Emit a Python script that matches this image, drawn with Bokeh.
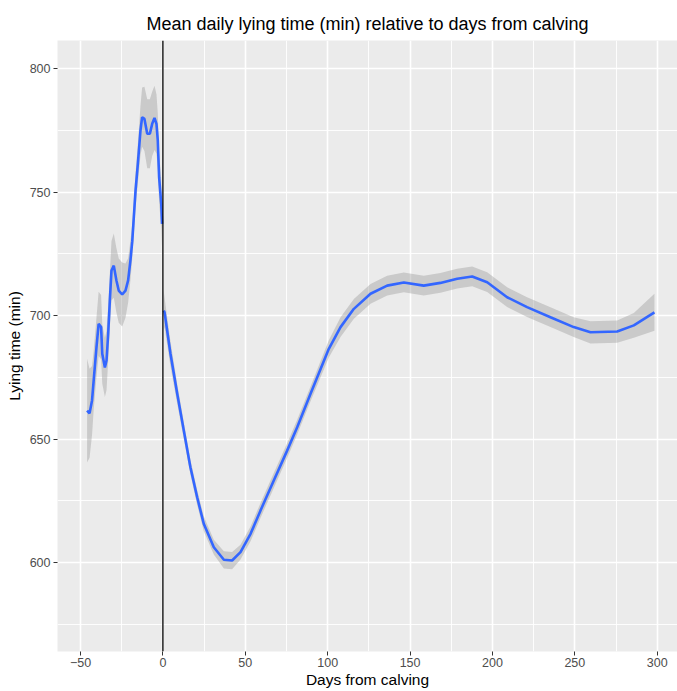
import numpy as np
from bokeh.plotting import figure
from bokeh.models import Range1d, FixedTicker, Span, ColumnDataSource
from bokeh.embed import file_html
from bokeh.resources import INLINE

# ---- data ----
pre_days = [-46, -44.5, -43, -42, -40.3, -39, -37.5, -36.8, -35.2, -34.2, -33.2, -32.2,
            -31.2, -29.8, -28.2, -26.8, -24.7, -22.7, -21.1, -19.7, -18.6, -16.6, -15.2,
            -13.6, -12.6, -11.2, -9.5, -7.9, -6.5, -5.1, -3.9, -3.1, -2.3, -1.0, -0.5]
pre_mean = [661.5, 660.4, 665.6, 673.7, 687.2, 696.6, 695.3, 684.5, 679.0, 681.8, 692.6, 706.0,
            718.2, 720.2, 714.2, 710.1, 708.5, 710.1, 714.2, 722.3, 730.0, 750.6, 761.4,
            774.9, 780.3, 779.6, 773.6, 773.6, 777.6, 780.0, 777.6, 770.9, 756.0, 745.2, 737.1]
pre_se = [21, 18, 14, 12, 12, 13, 13, 12, 12, 12, 11, 11,
          12, 13, 13, 13, 13, 11, 9, 8, 7, 7, 8,
          10, 12, 13, 14, 14, 13, 13, 12, 11, 10, 10, 10]

post_days = [0.5, 1, 4.6, 8.7, 12.7, 16.7, 20.8, 24.8, 30.9, 37, 42, 47.1, 53.2, 59.2, 67.3,
             75.4, 81.5, 89.6, 100.7, 107.8, 115.9, 126, 136.1, 146.2, 158.3, 168.4, 178.6,
             187.7, 196.8, 208.9, 221, 235.2, 249.3, 259.5, 275.7, 285.8, 298.3]
post_mean = [702.0, 701.3, 684.5, 668.3, 653.4, 638.6, 626.4, 615.7, 606.2, 601.1, 600.8, 604.2,
             611.6, 621.0, 633.2, 645.3, 654.8, 668.3, 686.5, 695.3, 702.7, 708.8, 712.1, 713.4,
             712.1, 713.2, 714.9, 715.8, 713.5, 707.4, 703.4, 699.3, 695.3, 693.2, 693.5, 696.0,
             701.3]
post_se = [8, 6, 5, 4, 3.5, 3, 3, 3, 3, 3.5, 3.5, 3, 3, 3, 3, 3, 3, 3, 3.5, 4, 4, 4, 4, 4,
           4, 4, 4, 4, 4, 4, 4, 4, 4, 4.5, 4.5, 5, 7.5]

x_ticks = [-50, 0, 50, 100, 150, 200, 250, 300]
x_minor = [-25, 25, 75, 125, 175, 225, 275]
y_ticks = [600, 650, 700, 750, 800]
y_minor = [575, 625, 675, 725, 775]

title_text = "Mean daily lying time (min) relative to days from calving"
x_label = "Days from calving"
y_label = "Lying time (min)"

# ---- figure ----
FONT = "Liberation Sans"
p = figure(width=677, height=691,
           x_range=Range1d(-63.96, 312.3), y_range=Range1d(563.97, 811.34),
           output_backend="svg", toolbar_location=None, title=title_text,
           min_border_left=57, min_border_right=0, min_border_top=40, min_border_bottom=40)

p.background_fill_color = "#EBEBEB"
p.border_fill_color = "white"
p.outline_line_color = None

p.title.text_font = FONT
p.title.text_font_size = "18px"
p.title.text_font_style = "normal"
p.title.text_color = "black"
p.title.align = "center"
p.title.standoff = 14

p.xaxis.ticker = FixedTicker(ticks=x_ticks, minor_ticks=x_minor)
p.yaxis.ticker = FixedTicker(ticks=y_ticks, minor_ticks=y_minor)
p.xaxis.axis_label = x_label
p.yaxis.axis_label = y_label
for ax in (p.xaxis[0], p.yaxis[0]):
    ax.axis_line_color = None
    ax.major_tick_line_color = "#333333"
    ax.major_tick_line_width = 1
    ax.major_tick_out = 4
    ax.major_tick_in = 0
    ax.minor_tick_line_color = None
    ax.major_label_text_color = "#4D4D4D"
    ax.major_label_text_font = FONT
    ax.major_label_text_font_size = "12.5px"
    ax.major_label_standoff = 2
    ax.axis_label_text_font = FONT
    ax.axis_label_text_font_size = "15.5px"
    ax.axis_label_text_font_style = "normal"
    ax.axis_label_text_color = "black"
    ax.axis_label_standoff = 1
p.yaxis[0].major_label_standoff = 3
p.yaxis[0].axis_label_standoff = 4

for g in (p.xgrid[0], p.ygrid[0]):
    g.grid_line_color = "white"
    g.grid_line_width = 1.6
    g.minor_grid_line_color = "white"
    g.minor_grid_line_width = 0.9

pre = ColumnDataSource(dict(x=pre_days, y=pre_mean,
                            lo=np.array(pre_mean) - np.array(pre_se),
                            hi=np.array(pre_mean) + np.array(pre_se)))
post = ColumnDataSource(dict(x=post_days, y=post_mean,
                             lo=np.array(post_mean) - np.array(post_se),
                             hi=np.array(post_mean) + np.array(post_se)))

for src in (pre, post):
    p.varea(x="x", y1="lo", y2="hi", source=src, fill_color="#999999", fill_alpha=0.4)

p.add_layout(Span(location=0, dimension="height", line_color="black", line_width=1.3))

for src in (pre, post):
    p.line(x="x", y="y", source=src, line_color="#3366FF", line_width=2.6)

open("out.html", "w").write(file_html(p, INLINE))
